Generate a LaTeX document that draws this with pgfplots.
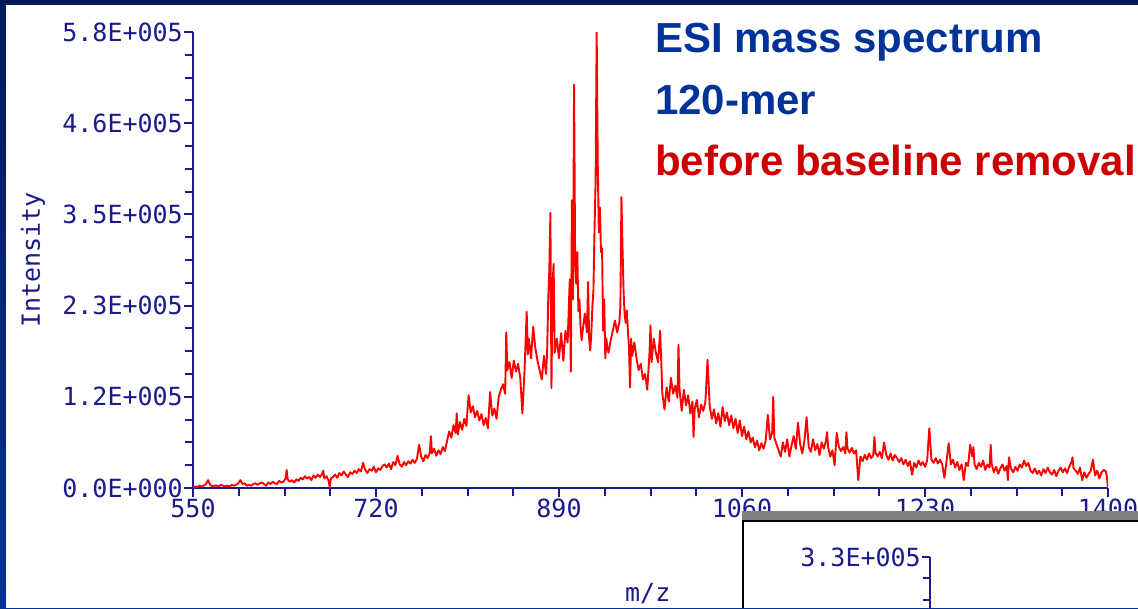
\documentclass[border=0pt]{standalone}
\usepackage{fontspec}
\setmainfont{Liberation Sans}
\newfontfamily\monofont{DejaVu Sans Mono}
\usepackage{pgfplots}
\pgfplotsset{compat=1.18}
\definecolor{axnavy}{RGB}{26,26,140}
\definecolor{titleblue}{RGB}{0,51,153}
\definecolor{titlered}{RGB}{204,0,0}
\definecolor{frametop}{RGB}{0,26,87}
\definecolor{framebot}{RGB}{0,51,153}
\pgfplotstableread{
mz intensity
550 1000
552 2000
554 1000
556 3000
558 2000
560 3000
562 5000
564 10000
566 4000
568 2000
570 3000
572 3000
574 2000
576 4000
578 3000
580 2000
582 3000
584 2000
586 4000
588 3000
590 4000
592 6000
594 10000
596 5000
598 6000
600 3000
602 4000
604 3000
606 5000
608 6000
610 4000
612 6000
614 7000
616 5000
618 3000
620 7000
622 5000
624 8000
626 6000
628 5000
630 9000
632 7000
634 8000
636 12000
637 23000
638 11000
640 8000
642 10000
644 7000
646 11000
648 9000
650 13000
652 11000
654 15000
656 12000
658 14000
660 10000
662 16000
664 13000
666 17000
668 14000
670 18000
671 22000
672 12000
674 15000
676 9000
677 1000
678 12000
680 14000
682 17000
684 13000
686 19000
688 16000
690 21000
692 17000
694 14000
696 20000
698 18000
700 22000
702 19000
704 24000
706 21000
708 32000
710 23000
712 19000
714 24000
716 22000
718 27000
720 20000
722 25000
724 23000
726 28000
728 30000
730 26000
732 31000
734 24000
736 33000
738 29000
740 41000
742 30000
744 27000
746 33000
748 29000
750 34000
752 31000
754 36000
756 32000
758 37000
760 55000
762 40000
764 34000
766 42000
768 38000
770 45000
771 66000
772 44000
774 50000
776 41000
778 48000
780 43000
782 52000
784 47000
786 60000
788 72000
790 64000
792 80000
794 70000
795 95000
796 68000
798 84000
800 74000
802 88000
804 79000
806 118000
808 96000
810 104000
812 90000
814 98000
816 86000
818 94000
820 80000
822 89000
824 76000
826 122000
828 92000
830 101000
832 88000
834 116000
836 125000
838 132000
840 120000
841 198000
842 150000
844 160000
846 140000
848 162000
850 148000
852 158000
854 140000
856 95000
858 150000
860 224000
861 170000
862 190000
864 165000
866 205000
868 178000
870 162000
872 150000
874 138000
876 168000
878 145000
879 175000
880 240000
881 277000
882 350000
883 127000
884 258000
885 285000
886 172000
888 190000
890 165000
892 197000
894 162000
896 200000
898 185000
900 265000
901 148000
902 366000
903 240000
904 513000
905 290000
906 260000
907 300000
908 225000
909 240000
910 205000
911 188000
912 200000
914 222000
916 198000
917 262000
918 190000
919 175000
920 196000
921 230000
922 252000
923 330000
924 389000
925 580000
926 413000
927 325000
928 357000
929 300000
930 305000
931 200000
932 240000
933 165000
934 190000
935 178000
936 172000
938 188000
940 200000
942 213000
944 198000
946 210000
947 230000
948 370000
949 306000
950 250000
951 220000
952 210000
953 226000
954 200000
955 180000
956 128000
957 190000
958 168000
960 185000
962 165000
964 150000
966 158000
968 138000
970 145000
972 125000
974 170000
975 207000
976 160000
978 190000
980 172000
982 160000
984 200000
986 120000
988 100000
990 128000
992 110000
994 140000
996 120000
998 130000
1000 115000
1001 182000
1002 125000
1004 98000
1006 125000
1008 105000
1010 118000
1012 95000
1014 110000
1015 65000
1016 100000
1018 112000
1020 90000
1022 106000
1024 98000
1026 110000
1028 163000
1030 104000
1032 88000
1034 100000
1036 82000
1038 95000
1040 78000
1042 103000
1044 85000
1046 96000
1048 80000
1050 92000
1052 76000
1054 88000
1056 70000
1058 86000
1060 66000
1062 78000
1064 62000
1066 72000
1068 58000
1070 64000
1072 52000
1074 60000
1076 48000
1078 57000
1080 50000
1082 60000
1084 93000
1086 62000
1088 70000
1089 116000
1090 64000
1092 56000
1094 48000
1096 40000
1098 58000
1100 46000
1102 62000
1104 40000
1106 54000
1108 66000
1110 50000
1112 83000
1114 56000
1116 44000
1118 60000
1120 90000
1122 52000
1124 46000
1126 62000
1128 48000
1130 56000
1132 42000
1134 58000
1136 50000
1138 60000
1139 71000
1140 52000
1142 40000
1144 48000
1146 29000
1148 70000
1150 52000
1152 47000
1154 52000
1156 44000
1157 71000
1158 50000
1160 45000
1162 51000
1164 44000
1166 48000
1168 10000
1170 40000
1172 34000
1174 42000
1176 36000
1178 44000
1180 38000
1182 42000
1183 65000
1184 45000
1186 40000
1188 46000
1190 38000
1192 58000
1194 42000
1196 36000
1198 44000
1200 35000
1202 42000
1204 38000
1206 33000
1208 38000
1210 30000
1212 36000
1214 28000
1216 34000
1218 17000
1220 32000
1222 26000
1224 35000
1226 29000
1228 33000
1230 27000
1232 35000
1234 76000
1236 36000
1238 32000
1240 38000
1242 31000
1244 36000
1246 30000
1248 13000
1250 34000
1252 57000
1254 30000
1256 36000
1258 26000
1260 33000
1262 23000
1264 30000
1266 10000
1268 32000
1270 28000
1272 55000
1274 40000
1275 52000
1276 30000
1278 24000
1280 32000
1282 27000
1284 35000
1286 23000
1288 30000
1290 26000
1291 55000
1292 30000
1294 20000
1296 27000
1298 18000
1300 25000
1302 30000
1304 22000
1306 28000
1307 10000
1308 39000
1310 24000
1312 20000
1314 27000
1316 22000
1318 30000
1320 26000
1322 35000
1324 28000
1326 32000
1328 22000
1330 19000
1332 25000
1334 18000
1336 22000
1338 16000
1340 24000
1342 19000
1344 26000
1346 20000
1348 17000
1350 23000
1352 15000
1354 22000
1356 26000
1358 20000
1360 25000
1362 19000
1364 27000
1366 33000
1367 39000
1368 25000
1370 22000
1372 18000
1374 26000
1376 10000
1378 20000
1380 13000
1382 18000
1384 22000
1386 36000
1388 16000
1390 22000
1392 12000
1394 20000
1396 23000
1398 21000
1399 14000
1400 0
}\spectrum
\begin{document}
\begin{tikzpicture}[x=1pt,y=1pt]
\useasboundingbox (0,0) rectangle (1138,608);
\clip (0,0) rectangle (1138,608);
\shade[top color=frametop, bottom color=framebot] (0,0) rectangle (1138,608);
\fill[white] (6,0) rectangle (1138,603);
\begin{axis}[
  scale only axis, width=915pt, height=456pt,
  at={(193pt,120pt)}, anchor=south west,
  xmin=550, xmax=1400, ymin=0, ymax=580000,
  axis x line=bottom, axis y line=left,
  axis line style={-, line width=2pt, draw=axnavy},
  xtick={550,720,890,1060,1230,1400},
  xticklabels={550,720,890,1060,1230,1400},
  ytick={0,116000,232000,348000,464000,580000},
  yticklabels={0.0E+000,1.2E+005,2.3E+005,3.5E+005,4.6E+005,5.8E+005},
  scaled y ticks=false,
  minor x tick num=3, minor y tick num=3,
  tick align=outside,
  major tick length=9pt, minor tick length=8pt,
  tick style={draw=axnavy, line width=2pt},
  tick label style={font=\monofont\fontsize{25}{30}\selectfont, text=axnavy},
  xticklabel style={inner sep=2pt},
  yticklabel style={inner sep=1pt},
  xlabel={m/z}, ylabel={Intensity},
  label style={font=\monofont\fontsize{25}{30}\selectfont, text=axnavy},
  xlabel style={at={(axis description cs:0.497,-0.232)}, anchor=center},
  ylabel style={at={(axis description cs:-0.175,0.5)}, anchor=center},
]
\addplot[color=red, line width=1.9pt, line join=round] table[x=mz, y=intensity] {\spectrum};
\end{axis}
\node[anchor=base west, inner sep=0pt, text=titleblue, font=\fontsize{42}{50}\selectfont\bfseries] at (655,555) {ESI mass spectrum};
\node[anchor=base west, inner sep=0pt, text=titleblue, font=\fontsize{42}{50}\selectfont\bfseries] at (655,493) {120-mer};
\node[anchor=base west, inner sep=0pt, text=titlered, font=\fontsize{42}{50}\selectfont\bfseries] at (655,432) {before baseline removal};
% inset panel
\fill[gray] (742,87) rectangle (1138,97);
\fill[white] (744,0) rectangle (1138,86);
\draw[black, line width=2pt] (743,0) -- (743,86.5) -- (1138,86.5);
\begin{axis}[
  scale only axis, width=20pt, height=430pt,
  at={(930pt,51pt)}, anchor=north west,
  xmin=0, xmax=1, ymin=0, ymax=330000,
  axis x line=none, axis y line=left,
  axis line style={-, line width=2pt, draw=axnavy},
  ytick={0,66000,132000,198000,264000,330000},
  yticklabels={,,,,,3.3E+005},
  scaled y ticks=false,
  minor y tick num=3,
  tick align=outside,
  major tick length=8pt, minor tick length=7pt,
  tick style={draw=axnavy, line width=2pt},
  tick label style={font=\monofont\fontsize{25}{30}\selectfont, text=axnavy},
  yticklabel style={inner sep=1pt},
]
\end{axis}
\end{tikzpicture}
\end{document}
